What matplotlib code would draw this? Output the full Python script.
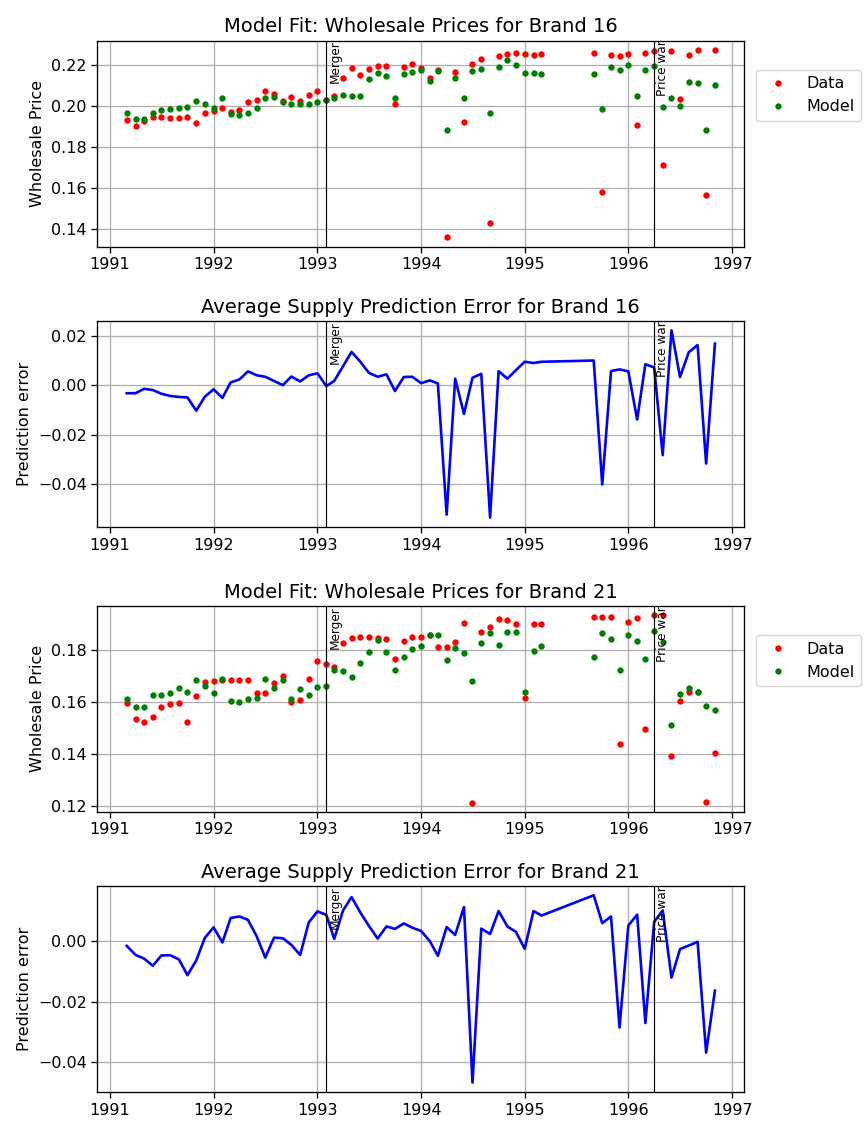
import matplotlib
matplotlib.use('Agg')
import matplotlib.pyplot as plt
import matplotlib.dates as mdates
import matplotlib.transforms as mtransforms
import pandas as pd

# ---------------- data ----------------
dates = list(pd.date_range('1991-03-01', '1995-03-01', freq='MS')) + \
        list(pd.date_range('1995-09-01', '1996-11-01', freq='MS'))

merger_date = pd.Timestamp('1993-02-01')
price_war_date = pd.Timestamp('1996-04-01')

b16_data = [
    0.1930, 0.1902, 0.1924, 0.1948, 0.1948, 0.1943, 0.1943, 0.1945, 0.1917, 0.1964,
    0.1976, 0.1989, 0.1972, 0.1982, 0.2021, 0.2031, 0.2070, 0.2057, 0.2024, 0.2044, 0.2024, 0.2055,
    0.2070, 0.2028, 0.2050, 0.2137, 0.2185, 0.2148, 0.2182, 0.2193, 0.2192, 0.2010, 0.2190, 0.2202,
    0.2184, 0.2138, 0.2177, 0.1359, 0.2164, 0.1920, 0.2202, 0.2229, 0.1431, 0.2244, 0.2252, 0.2259,
    0.2252, 0.2249, 0.2252, 0.2257, 0.1580, 0.2247, 0.2242,
    0.2252, 0.1909, 0.2260, 0.2265, 0.1712, 0.2265, 0.2034, 0.2247, 0.2272, 0.1567, 0.2272]
b16_model = [
    0.1964, 0.1935, 0.1935, 0.1964, 0.1980, 0.1987, 0.1992, 0.1995, 0.2023, 0.2011,
    0.1992, 0.2039, 0.1959, 0.1956, 0.1964, 0.1992, 0.2036, 0.2042, 0.2021, 0.2007, 0.2007, 0.2011,
    0.2021, 0.2028, 0.2036, 0.2054, 0.2047, 0.2050, 0.2130, 0.2158, 0.2145, 0.2036, 0.2156, 0.2166,
    0.2174, 0.2119, 0.2169, 0.1881, 0.2137, 0.2037, 0.2171, 0.2180, 0.1964, 0.2187, 0.2224, 0.2200,
    0.2158, 0.2158, 0.2156, 0.2154, 0.1984, 0.2190, 0.2177,
    0.2197, 0.2047, 0.2174, 0.2192, 0.1995, 0.2039, 0.2000, 0.2114, 0.2109, 0.1883, 0.2104]
b16_error = [
    -0.0032, -0.0032, -0.0014, -0.0019, -0.0034, -0.0043, -0.0047, -0.0049, -0.0103, -0.0046,
    -0.0016, -0.0051, 0.0012, 0.0024, 0.0057, 0.0041, 0.0035, 0.0018, 0.0001, 0.0036, 0.0016, 0.0041,
    0.0049, -0.0003, 0.0018, 0.0078, 0.0136, 0.0096, 0.0051, 0.0035, 0.0045, -0.0023, 0.0034, 0.0035,
    0.0009, 0.0020, 0.0008, -0.0526, 0.0027, -0.0116, 0.0031, 0.0047, -0.0538, 0.0058, 0.0027, 0.0062,
    0.0096, 0.0091, 0.0096, 0.0101, -0.0403, 0.0058, 0.0065,
    0.0057, -0.0139, 0.0086, 0.0073, -0.0284, 0.0224, 0.0034, 0.0135, 0.0164, -0.0318, 0.0170]

b21_data = [
    0.1595, 0.1535, 0.1522, 0.1542, 0.1579, 0.1590, 0.1594, 0.1523, 0.1622, 0.1677,
    0.1681, 0.1682, 0.1682, 0.1682, 0.1682, 0.1635, 0.1635, 0.1671, 0.1697, 0.1597, 0.1605, 0.1688,
    0.1756, 0.1746, 0.1732, 0.1824, 0.1845, 0.1847, 0.1847, 0.1845, 0.1841, 0.1764, 0.1833, 0.1847,
    0.1850, 0.1855, 0.1810, 0.1809, 0.1828, 0.1903, 0.1212, 0.1869, 0.1886, 0.1918, 0.1915, 0.1899,
    0.1614, 0.1897, 0.1897, 0.1926, 0.1927, 0.1926, 0.1437,
    0.1906, 0.1922, 0.1495, 0.1932, 0.1932, 0.1390, 0.1601, 0.1638, 0.1636, 0.1214, 0.1404]
b21_model = [
    0.1610, 0.1578, 0.1578, 0.1624, 0.1624, 0.1635, 0.1654, 0.1636, 0.1685, 0.1662,
    0.1632, 0.1687, 0.1604, 0.1599, 0.1609, 0.1613, 0.1686, 0.1653, 0.1683, 0.1610, 0.1650, 0.1626,
    0.1655, 0.1659, 0.1722, 0.1719, 0.1696, 0.1749, 0.1791, 0.1837, 0.1790, 0.1722, 0.1772, 0.1803,
    0.1814, 0.1858, 0.1858, 0.1760, 0.1805, 0.1788, 0.1679, 0.1826, 0.1862, 0.1817, 0.1867, 0.1867,
    0.1638, 0.1795, 0.1812, 0.1772, 0.1865, 0.1841, 0.1722,
    0.1856, 0.1835, 0.1765, 0.1871, 0.1828, 0.1509, 0.1628, 0.1651, 0.1638, 0.1583, 0.1569]
b21_error = [
    -0.0015, -0.0045, -0.0057, -0.0081, -0.0047, -0.0046, -0.0060, -0.0112, -0.0063, 0.0011,
    0.0046, -0.0004, 0.0077, 0.0082, 0.0071, 0.0016, -0.0054, 0.0012, 0.0010, -0.0012, -0.0045, 0.0062,
    0.0099, 0.0087, 0.0008, 0.0102, 0.0146, 0.0095, 0.0051, 0.0009, 0.0049, 0.0041, 0.0059, 0.0045,
    0.0034, 0.0000, -0.0048, 0.0047, 0.0021, 0.0113, -0.0467, 0.0042, 0.0024, 0.0100, 0.0049, 0.0031,
    -0.0025, 0.0100, 0.0085, 0.0152, 0.0060, 0.0082, -0.0285,
    0.0052, 0.0088, -0.0270, 0.0064, 0.0102, -0.0120, -0.0026, -0.0014, -0.0002, -0.0368, -0.0163]

titles = ['Model Fit: Wholesale Prices for Brand 16',
          'Average Supply Prediction Error for Brand 16',
          'Model Fit: Wholesale Prices for Brand 21',
          'Average Supply Prediction Error for Brand 21']

# ---------------- style ----------------
plt.rcParams.update({
    'font.family': 'DejaVu Sans',
    'font.size': 11.5,
    'axes.titlesize': 14,
    'axes.labelsize': 11.5,
    'xtick.labelsize': 11.5,
    'ytick.labelsize': 11.5,
    'legend.fontsize': 11.5,
    'axes.linewidth': 0.95,
    'xtick.major.width': 0.95,
    'ytick.major.width': 0.95,
    'xtick.major.size': 4.1,
    'ytick.major.size': 4.1,
    'grid.color': '#b0b0b0',
    'grid.linewidth': 0.95,
})

fig = plt.figure(figsize=(8.65, 11.21), dpi=100)
left, width, height = 0.1125, 0.748, 0.1838
bottoms = [0.7799, 0.5299, 0.2757, 0.0259]
axes = [fig.add_axes([left, b, width, height]) for b in bottoms]


def add_events(ax):
    for d, lab in [(merger_date, 'Merger'), (price_war_date, 'Price war')]:
        ax.axvline(d, color='black', lw=0.85, zorder=3)
        trans = mtransforms.blended_transform_factory(ax.transData, ax.transAxes)
        trans = mtransforms.offset_copy(trans, fig=fig, x=2, y=0, units='dots')
        ax.text(d, 1.0, lab, rotation=90, ha='left', va='top', fontsize=8.7,
                transform=trans)


def style(ax, title, ylabel):
    ax.set_title(title)
    ax.set_ylabel(ylabel)
    ax.grid(True)
    ax.xaxis.set_major_locator(mdates.YearLocator())
    ax.xaxis.set_major_formatter(mdates.DateFormatter('%Y'))


for ax, data, model, title in [(axes[0], b16_data, b16_model, titles[0]),
                               (axes[2], b21_data, b21_model, titles[2])]:
    ax.plot(dates, data, 'o', color='red', ms=4.6, mec='none', label='Data')
    ax.plot(dates, model, 'o', color='green', ms=4.6, mec='none', label='Model')
    style(ax, title, 'Wholesale Price')
    add_events(ax)
    ax.legend(loc='upper left', bbox_to_anchor=(1.0176, 0.858), borderaxespad=0,
              numpoints=1)

for ax, err, title in [(axes[1], b16_error, titles[1]), (axes[3], b21_error, titles[3])]:
    ax.plot(dates, err, '-', color='blue', lw=1.9)
    style(ax, title, 'Prediction error')
    add_events(ax)

fig.savefig('out.png', dpi=100)
